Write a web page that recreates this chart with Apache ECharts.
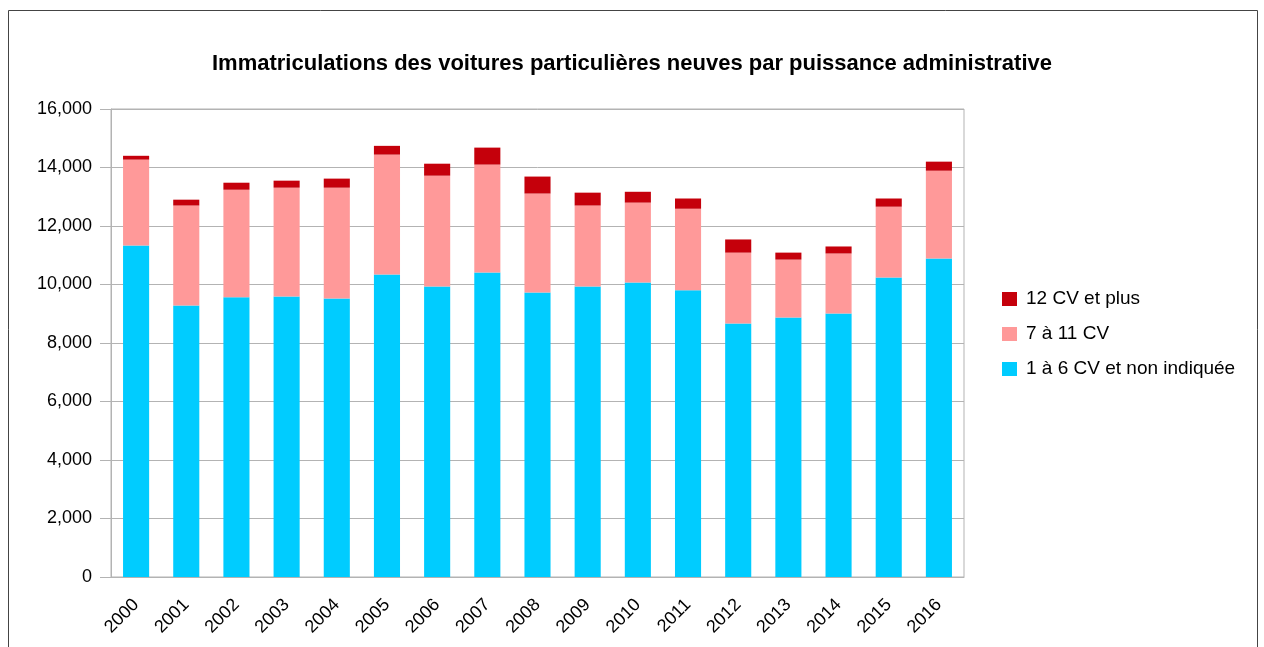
<!DOCTYPE html>
<html>
<head>
<meta charset="utf-8">
<script src="https://cdn.jsdelivr.net/npm/echarts@6/dist/echarts.min.js"></script>
<style>
  html, body { margin: 0; padding: 0; background: #fff; }
  #chart { width: 1264px; height: 647px; }
</style>
</head>
<body>
<div id="chart"></div>
<script>
const years = ['2000', '2001', '2002', '2003', '2004', '2005', '2006', '2007', '2008',
  '2009', '2010', '2011', '2012', '2013', '2014', '2015', '2016']
const cv1to6 = [11330, 9280, 9560, 9590, 9520, 10340, 9930, 10410, 9730,
  9930, 10070, 9800, 8670, 8870, 9010, 10240, 10890]
const cv7to11 = [2940, 3420, 3680, 3720, 3790, 4100, 3790, 3690, 3380,
  2770, 2730, 2790, 2420, 1980, 2050, 2420, 3000]
const cv12plus = [130, 200, 240, 240, 310, 300, 410, 580, 580,
  440, 370, 350, 450, 240, 240, 280, 310]

const font = "'Liberation Sans', Arial, sans-serif"
let chart = echarts.init(document.getElementById('chart'))

let bar = (name, data, color) => {
  return {
    name: name,
    type: 'bar',
    stack: 'total',
    barCategoryGap: '48%',
    itemStyle: { color: color },
    emphasis: { disabled: true },
    data: data,
  }
}

let options = {
  animation: false,
  backgroundColor: '#fff',
  textStyle: { fontFamily: font },
  graphic: [{
    type: 'rect',
    shape: { x: 8.5, y: 10.5, width: 1249, height: 700 },
    style: { fill: 'none', stroke: '#444', lineWidth: 1 },
    silent: true,
  }],
  title: {
    text: 'Immatriculations des voitures particulières neuves par puissance administrative',
    left: 'center',
    top: 48,
    textStyle: {
      fontFamily: font,
      fontSize: 22,
      fontWeight: 'bold',
      color: '#000',
    },
  },
  legend: {
    orient: 'vertical',
    left: 997,
    top: 284,
    itemWidth: 15,
    itemHeight: 14,
    itemGap: 15,
    icon: 'rect',
    data: ['12 CV et plus', '7 à 11 CV', '1 à 6 CV et non indiquée'],
    textStyle: { fontSize: 19, lineHeight: 20, color: '#000', fontFamily: font, padding: [0, 0, 0, 4] },
  },
  grid: {
    left: 111,
    right: 300,
    top: 109,
    bottom: 70,
    show: true,
    borderColor: '#b3b3b3',
    borderWidth: 1,
  },
  xAxis: {
    type: 'category',
    data: years,
    axisLine: { lineStyle: { color: '#b3b3b3' } },
    axisTick: { length: 11, lineStyle: { color: '#b3b3b3' } },
    axisLabel: { rotate: 45, fontSize: 18, color: '#000', margin: 25, interval: 0 },
  },
  yAxis: {
    type: 'value',
    min: 0,
    max: 16000,
    interval: 2000,
    axisLine: { show: true, lineStyle: { color: '#b3b3b3' } },
    axisTick: { show: true, length: 11, lineStyle: { color: '#b3b3b3' } },
    splitLine: { lineStyle: { color: '#b3b3b3' } },
    axisLabel: {
      fontSize: 18,
      color: '#000',
      margin: 19,
      formatter: v => v.toLocaleString('en-US'),
    },
  },
  series: [
    bar('1 à 6 CV et non indiquée', cv1to6, '#00ccff'),
    bar('7 à 11 CV', cv7to11, '#ff9999'),
    bar('12 CV et plus', cv12plus, '#c5000b'),
  ],
}
chart.setOption(options)
</script>
</body>
</html>
